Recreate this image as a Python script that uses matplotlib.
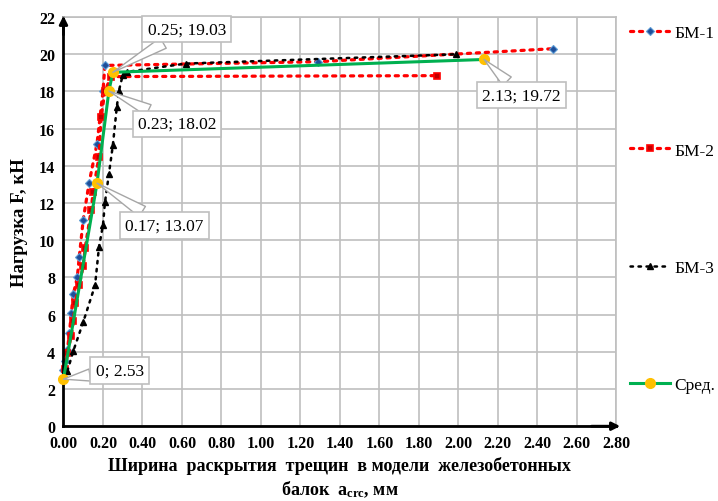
import matplotlib
matplotlib.use("Agg")
import matplotlib.pyplot as plt

plt.rcParams['font.family'] = ['Liberation Serif', 'DejaVu Serif']
plt.rcParams['mathtext.fontset'] = 'custom'
plt.rcParams['mathtext.rm'] = 'Liberation Serif:bold'
plt.rcParams['mathtext.it'] = 'Liberation Serif:bold'
plt.rcParams['mathtext.bf'] = 'Liberation Serif:bold'

# ---- data ----
bm1_x = [0.00, 0.01, 0.02, 0.03, 0.04, 0.05, 0.07, 0.08, 0.10, 0.13, 0.17, 0.20, 0.21, 1.29, 2.48]
bm1_y = [3.0, 3.5, 4.1, 5.0, 6.1, 7.1, 8.0, 9.1, 11.1, 13.1, 15.2, 18.0, 19.4, 19.6, 20.3]

bm2_x = [0.01, 0.02, 0.04, 0.05, 0.06, 0.08, 0.10, 0.11, 0.14, 0.15, 0.18, 0.19, 0.21, 0.24, 1.89]
bm2_y = [3.06, 3.96, 4.86, 5.66, 6.65, 7.6, 8.6, 9.6, 11.6, 12.6, 14.5, 16.6, 18.0, 18.8, 18.85]

bm3_x = [0.02, 0.05, 0.10, 0.16, 0.18, 0.20, 0.21, 0.23, 0.25, 0.27, 0.28, 0.30, 0.32, 0.62, 1.99]
bm3_y = [2.97, 4.05, 5.6, 7.58, 9.65, 10.8, 12.03, 13.55, 15.1, 17.15, 18.0, 18.87, 19.05, 19.5, 20.0]

avg_x = [0.00, 0.17, 0.23, 0.25, 2.13]
avg_y = [2.53, 13.07, 18.02, 19.03, 19.72]
avg_labels = ["0; 2.53", "0.17; 13.07", "0.23; 18.02", "0.25; 19.03", "2.13; 19.72"]
label_pos = [(0.285, 3.0), (0.51, 10.8), (0.575, 16.25), (0.625, 21.35), (2.32, 17.8)]

series_names = ["БМ-1", "БМ-2", "БМ-3", "Сред."]
x_ticks = [i * 0.2 for i in range(15)]
y_ticks = list(range(0, 23, 2))

# ---- figure ----
fig = plt.figure(figsize=(7.18, 5.02), dpi=100)
ax = fig.add_axes([0.0884, 0.149, 0.770, 0.815])

ax.set_xlim(0, 2.8)
ax.set_ylim(0, 22)
ax.set_xticks(x_ticks)
ax.set_xticklabels([f"{t:.2f}" for t in x_ticks])
ax.set_yticks(y_ticks)
ax.grid(True, color='#bfbfbf', lw=1.2)
ax.set_axisbelow(True)
for s in ['top', 'right']:
    ax.spines[s].set_color('#bfbfbf')
    ax.spines[s].set_linewidth(1.2)
for s in ['left', 'bottom']:
    ax.spines[s].set_color('black')
    ax.spines[s].set_linewidth(2)
ax.tick_params(length=0, pad=6)
for lab in ax.get_xticklabels() + ax.get_yticklabels():
    lab.set_fontweight('bold')
    lab.set_fontsize(11.5)

# axis arrows
ax.annotate('', xy=(0, 1.01), xytext=(0, 0.95), xycoords='axes fraction',
            arrowprops=dict(arrowstyle='-|>', color='black', lw=2, mutation_scale=12), annotation_clip=False)
ax.annotate('', xy=(1.012, 0), xytext=(0.95, 0), xycoords='axes fraction',
            arrowprops=dict(arrowstyle='-|>', color='black', lw=2, mutation_scale=12), annotation_clip=False)

dot = (0, (1, 1.8))
dot3 = (0, (1, 2.2))
l1, = ax.plot(bm1_x, bm1_y, color='#ff0000', lw=2.3, ls=dot, dash_capstyle='round',
              marker='D', ms=4.5, mfc='#1f4e99', mec='#5b9bd5', mew=0.8, label=series_names[0], clip_on=False)
l2, = ax.plot(bm2_x, bm2_y, color='#ff0000', lw=2.3, ls=dot, dash_capstyle='round',
              marker='s', ms=5, mfc='#c00000', mec='#ff0000', mew=1.2, label=series_names[1], clip_on=False)
l3, = ax.plot(bm3_x, bm3_y, color='black', lw=1.8, ls=dot3, dash_capstyle='round',
              marker='^', ms=5, mfc='black', mec='black', label=series_names[2], clip_on=False)
l4, = ax.plot(avg_x, avg_y, color='#00b050', lw=2.2, marker='o', ms=7,
              mfc='#ffc000', mec='#ffc000', label=series_names[3], clip_on=False, zorder=5)

for (px, py), txt, (tx, ty) in zip(zip(avg_x, avg_y), avg_labels, label_pos):
    ax.annotate(txt, xy=(px, py), xytext=(tx, ty), fontsize=12.5, ha='center', va='center',
                bbox=dict(boxstyle='square,pad=0.3', fc='white', ec='#bfbfbf', lw=1.2),
                arrowprops=dict(arrowstyle='wedge,tail_width=0.7,shrink_factor=0.5',
                                fc='white', ec='#a6a6a6', lw=1.0, shrinkA=0, shrinkB=0),
                zorder=6, annotation_clip=False)

ax.set_ylabel("Нагрузка F, кН", fontsize=13.5, fontweight='bold', labelpad=8)
ax.set_xlabel("Ширина  раскрытия  трещин  в модели  железобетонных\nбалок  a$_{\\mathrm{crc}}$, мм",
              fontsize=13, fontweight='bold', linespacing=1.3, labelpad=4)

leg = fig.legend(handles=[l1, l2, l3, l4], loc='upper left', bbox_to_anchor=(0.868, 0.962),
                 frameon=False, fontsize=12.5, labelspacing=5.83, handlelength=2.3,
                 handletextpad=0.25, borderaxespad=0)

fig.savefig("out.png", dpi=100)
